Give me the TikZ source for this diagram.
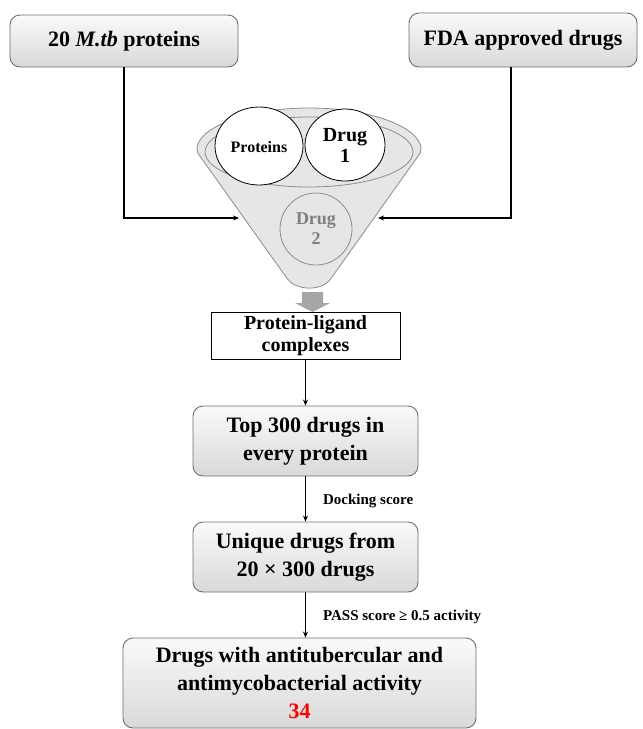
\documentclass[tikz,border=0pt]{standalone}
\usepackage{fontspec}
\setmainfont{Liberation Serif}
\usetikzlibrary{arrows.meta}
\definecolor{boxline}{HTML}{6E6E6E}
\definecolor{funnelfill}{HTML}{E6E6E6}
\definecolor{funnelline}{HTML}{8C8C8C}
\definecolor{drugtwo}{HTML}{7F7F7F}
\definecolor{blockarrow}{HTML}{A6A6A6}
\tikzset{
  gradbox/.style={draw=boxline, line width=0.9pt, rounded corners=10pt,
    top color=gray!4, bottom color=gray!30, align=center,
    font=\bfseries\fontsize{22}{28}\selectfont, inner sep=0pt},
  plainbox/.style={draw=black, line width=0.9pt, fill=white, align=center,
    font=\bfseries\fontsize{20}{22}\selectfont, inner sep=0pt},
  flow/.style={line width=1.2pt, -{Stealth[length=6pt,width=5pt]}},
  steplabel/.style={font=\bfseries\fontsize{15}{18}\selectfont, anchor=west, inner sep=0pt},
  circletext/.style={inner sep=0pt, align=center}
}
\begin{document}
\begin{tikzpicture}[x=1pt,y=-1pt]
\useasboundingbox (0,0) rectangle (643,729);

% top boxes
\node[gradbox, minimum width=228pt, minimum height=52pt] (mtb) at (124,41) {20 \textit{M.tb} proteins};
\node[gradbox, minimum width=228pt, minimum height=54pt] (fda) at (523,40) {FDA approved drugs};

% funnel
\path[draw=funnelline, line width=0.8pt, fill=funnelfill, rounded corners=3pt]
  (197,152) arc[start angle=180, end angle=360, x radius=112, y radius=44]
  -- (332,277) .. controls (322,291) and (297,291) .. (286,277) -- cycle;
\draw[funnelline, line width=0.8pt, fill=funnelfill] (309,152) ellipse [x radius=104, y radius=35];
\draw[black, line width=0.8pt, fill=white] (259,146) ellipse [x radius=44, y radius=39];
\draw[black, line width=0.8pt, fill=white] (345,145) ellipse [x radius=40, y radius=36];
\draw[funnelline, line width=0.8pt, fill=funnelfill] (316,229) ellipse [x radius=36, y radius=36];
\node[circletext, font=\bfseries\fontsize{16}{19}\selectfont] (prot) at (259,147) {Proteins};
\node[circletext, font=\bfseries\fontsize{20}{21}\selectfont] (drug1) at (345,145) {Drug\\1};
\node[circletext, font=\bfseries\fontsize{18}{20}\selectfont, text=drugtwo] (drug2) at (316,229) {Drug\\2};

\coordinate (funL) at (239,218);
\coordinate (funR) at (378,218);
\draw[flow] (mtb.south) |- (funL);
\draw[flow] ([xshift=-12pt]fda.south) |- (funR);

% block arrow
\fill[blockarrow] (302,292) -- (323,292) -- (323,303) -- (330,303) -- (312.5,312) -- (295,303) -- (302,303) -- cycle;

% flow boxes
\node[plainbox, minimum width=189pt, minimum height=47pt] (plc) at (305.5,335.5) {Protein-ligand\\complexes};
\node[gradbox, minimum width=225pt, minimum height=70pt] (top) at (305.5,441) {Top 300 drugs in\\every protein};
\node[gradbox, minimum width=225pt, minimum height=70pt] (uniq) at (305.5,557) {Unique drugs from\\20 × 300 drugs};
\node[gradbox, minimum width=353pt, minimum height=90pt] (final) at (299.5,683)
  {Drugs with antitubercular and\\antimycobacterial activity\\\textcolor{red}{34}};

\draw[flow] (plc.south -| top.north) -- (top.north);
\draw[flow] (top.south) -- (uniq.north) node[steplabel, pos=0.55, xshift=17pt] (dock) {Docking score};
\draw[flow] (uniq.south) -- (final.north -| uniq.south) node[steplabel, pos=0.55, xshift=17pt] (pass) {PASS score ≥ 0.5 activity};
\end{tikzpicture}
\end{document}
